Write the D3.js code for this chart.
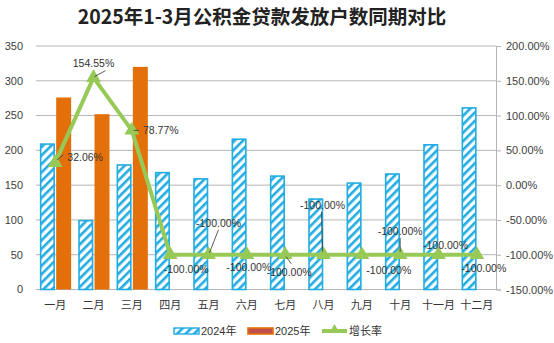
<!DOCTYPE html>
<html><head><meta charset="utf-8">
<script src="https://cdn.jsdelivr.net/npm/d3@7"></script>
<style>
body{margin:0;background:#fff;}
svg{display:block;font-family:"Liberation Sans","Noto Sans CJK SC",sans-serif;}
</style></head>
<body><svg id="c" width="554" height="343"></svg>
<script>
const categories = ["一月","二月","三月","四月","五月","六月","七月","八月","九月","十月","十一月","十二月"];
const values2024 = [209,99,179,168,159,216,163,130,153,166,208,261];
const values2025 = [276,252,320,0,0,0,0,0,0,0,0,0];
const growth = [32.06,154.55,78.77,-100,-100,-100,-100,-100,-100,-100,-100,-100];
const leftTicks = [0,50,100,150,200,250,300,350];
const rightTicks = [-150,-100,-50,0,50,100,150,200];

// label placement (styling): text offset from point, and optional leader line end offset
const labelStyle = [
  {dx:30, dy:-6, lead:[2,-3,8,-8]},
  {dx:0, dy:-14, lead:[1,-1,12,-7]},
  {dx:29, dy:0, lead:[2,0,7,0]},
  {dx:16, dy:15},
  {dx:10, dy:-31, lead:[1,-2,10,-25]},
  {dx:2, dy:13},
  {dx:4, dy:18, lead:[1,2,6,9]},
  {dx:-1, dy:-49, lead:[-1,-3,-2,-43]},
  {dx:27, dy:16},
  {dx:0, dy:-23, lead:[0,-3,0,-17]},
  {dx:7, dy:-9},
  {dx:7, dy:14}
];

const svg = d3.select("#c");
const L = 36, R = 496, T = 46, B = 289.5;
const x = d3.scaleBand().domain(categories).range([L,R]).paddingInner(0).paddingOuter(0);
const y = d3.scaleLinear().domain([0,350]).range([B,T]);
const y2 = d3.scaleLinear().domain([-150,200]).range([B,T]);
const blue = "#22ACE2", orange = "#E4700C", green = "#97C957", grid = "#B5B5B5";

const defs = svg.append("defs");
const pat = defs.append("pattern").attr("id","hatch").attr("patternUnits","userSpaceOnUse")
  .attr("width",6).attr("height",6).attr("patternTransform","rotate(45)");
pat.append("rect").attr("width",6).attr("height",6).attr("fill","#fff");
pat.append("rect").attr("width",2.6).attr("height",6).attr("fill",blue);

// title
svg.append("text").attr("x",262).attr("y",24).attr("text-anchor","middle")
  .attr("font-size",19.5).attr("font-weight","bold").attr("fill","#222")
  .attr("font-family","'Noto Sans CJK SC','Liberation Sans',sans-serif")
  .text("2025年1-3月公积金贷款发放户数同期对比");

// gridlines
svg.append("g").selectAll("line").data(leftTicks.slice(1)).join("line")
  .attr("x1",L).attr("x2",R).attr("y1",d=>y(d)).attr("y2",d=>y(d))
  .attr("stroke",grid).attr("stroke-width",1);

// left axis labels
svg.append("g").selectAll("text").data(leftTicks).join("text")
  .attr("x",23).attr("y",d=>y(d)).attr("dy","0.35em").attr("text-anchor","end")
  .attr("font-size",11).attr("fill","#404040").text(d=>d);

// right axis
const ra = svg.append("g").attr("transform",`translate(${R},0)`)
  .call(d3.axisRight(y2).tickValues(rightTicks).tickSize(5).tickFormat(d=>d.toFixed(2)+"%"));
ra.select(".domain").attr("stroke",grid);
ra.selectAll(".tick line").attr("stroke",grid);
ra.selectAll("text").attr("font-size",11).attr("fill","#404040").attr("x",10)
  .attr("font-family","'Liberation Sans',sans-serif");

// x axis
svg.append("line").attr("x1",L).attr("x2",R).attr("y1",B).attr("y2",B).attr("stroke",grid);
svg.append("g").selectAll("text").data(categories).join("text")
  .attr("x",d=>x(d)+x.bandwidth()/2).attr("y",305).attr("dy","0.35em").attr("text-anchor","middle")
  .attr("font-size",11).attr("fill","#333")
  .attr("font-family","'Noto Sans CJK SC',sans-serif").text(d=>d);

// bars
const bw = 13.5, gap = 2;
svg.append("g").selectAll("rect").data(values2024).join("rect")
  .attr("x",(d,i)=>x(categories[i])+x.bandwidth()/2-gap/2-bw)
  .attr("y",d=>y(d)).attr("width",bw).attr("height",d=>B-y(d))
  .attr("fill","url(#hatch)").attr("stroke",blue).attr("stroke-width",1.6);
svg.append("g").selectAll("rect").data(values2025.filter(d=>d>0)).join("rect")
  .attr("x",(d,i)=>x(categories[i])+x.bandwidth()/2+gap/2)
  .attr("y",d=>y(d)).attr("width",bw+1.5).attr("height",d=>B-y(d))
  .attr("fill",orange);

// line
const px = i => x(categories[i])+x.bandwidth()/2;
svg.append("path").datum(growth)
  .attr("d",d3.line().x((d,i)=>px(i)).y(d=>y2(d)))
  .attr("fill","none").attr("stroke",green).attr("stroke-width",4).attr("stroke-linejoin","round");
const tri = d3.symbol().type(d3.symbolTriangle).size(95);
svg.append("g").selectAll("path").data(growth).join("path")
  .attr("transform",(d,i)=>`translate(${px(i)},${y2(d)})`).attr("d",tri).attr("fill",green);

// data labels
const lab = svg.append("g");
growth.forEach((d,i)=>{
  const s = labelStyle[i];
  const ox = px(i), oy = y2(d);
  if(s.lead){
    lab.append("line").attr("x1",ox+s.lead[0]).attr("y1",oy+s.lead[1])
      .attr("x2",ox+s.lead[2]).attr("y2",oy+s.lead[3])
      .attr("stroke","#333").attr("stroke-width",0.8);
  }
  lab.append("text").attr("x",ox+s.dx).attr("y",oy+s.dy).attr("dy","0.35em").attr("text-anchor","middle")
    .attr("font-size",10.5).attr("fill","#333")
    .text(d.toFixed(2)+"%");
});

// legend
const lg = svg.append("g");
lg.append("rect").attr("x",174).attr("y",328).attr("width",25).attr("height",6)
  .attr("fill","url(#hatch)").attr("stroke",blue).attr("stroke-width",1.4);
lg.append("text").attr("x",201).attr("y",331).attr("dy","0.35em").attr("font-size",11).attr("fill","#333")
  .attr("font-family","'Liberation Sans','Noto Sans CJK SC',sans-serif").text("2024年");
lg.append("rect").attr("x",248).attr("y",328).attr("width",25).attr("height",6)
  .attr("fill","#C0504D").attr("stroke",orange).attr("stroke-width",1.6);
lg.append("text").attr("x",275).attr("y",331).attr("dy","0.35em").attr("font-size",11).attr("fill","#333")
  .attr("font-family","'Liberation Sans','Noto Sans CJK SC',sans-serif").text("2025年");
lg.append("line").attr("x1",322).attr("x2",347).attr("y1",331).attr("y2",331).attr("stroke",green).attr("stroke-width",4);
lg.append("path").attr("transform","translate(334.5,330)").attr("d",d3.symbol().type(d3.symbolTriangle).size(45)).attr("fill",green);
lg.append("text").attr("x",349).attr("y",331).attr("dy","0.35em").attr("font-size",11).attr("fill","#333")
  .attr("font-family","'Noto Sans CJK SC',sans-serif").text("增长率");
</script></body></html>
